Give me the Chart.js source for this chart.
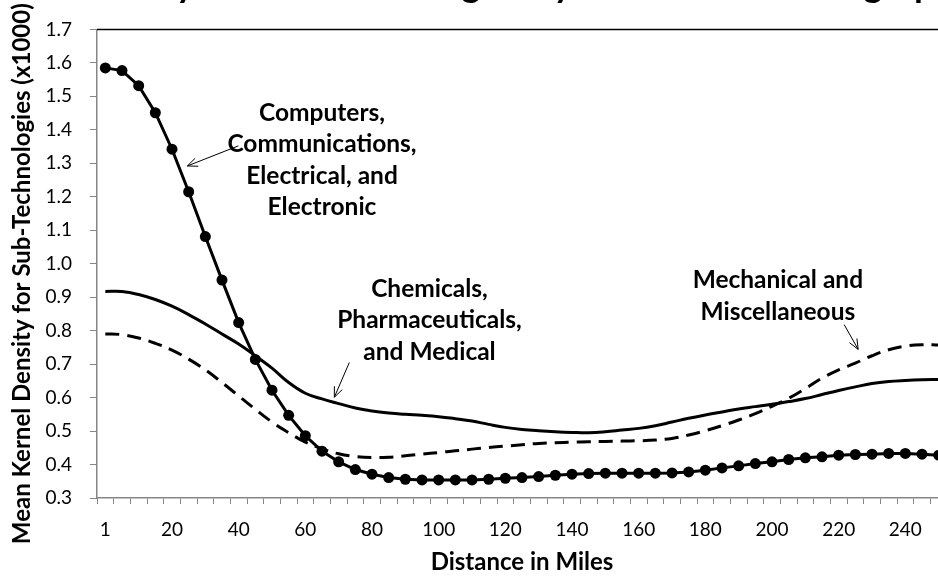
<!DOCTYPE html>
<html>
<head>
<meta charset="utf-8">
<script src="https://cdn.jsdelivr.net/npm/chart.js@4.4.1/dist/chart.umd.min.js"></script>
<style>
html, body { margin: 0; padding: 0; background: #fff; overflow: hidden; }
#wrap { position: absolute; left: 0; top: 0; width: 960px; height: 577px; }
</style>
</head>
<body>
<div id="wrap"><canvas id="canvas" width="960" height="577"></canvas></div>
<script>
var miles = [1, 5, 10, 15, 20, 25, 30, 35, 40, 45, 50, 55, 60, 65, 70, 75, 80, 85, 90, 95,
  100, 105, 110, 115, 120, 125, 130, 135, 140, 145, 150, 155, 160, 165, 170, 175, 180, 185, 190, 195,
  200, 205, 210, 215, 220, 225, 230, 235, 240, 245, 250];

var computers = [1.585, 1.577, 1.532, 1.451, 1.342, 1.215, 1.081, 0.951, 0.824, 0.714,
  0.622, 0.547, 0.486, 0.440, 0.408, 0.385, 0.371, 0.361, 0.356, 0.354,
  0.354, 0.354, 0.354, 0.356, 0.359, 0.361, 0.364, 0.368, 0.371, 0.373,
  0.374, 0.374, 0.374, 0.374, 0.375, 0.378, 0.383, 0.390, 0.396, 0.403,
  0.408, 0.415, 0.420, 0.423, 0.428, 0.430, 0.431, 0.433, 0.433, 0.431, 0.428];

var chemicals = [0.917, 0.917, 0.908, 0.893, 0.873, 0.848, 0.820, 0.790, 0.760, 0.725,
  0.688, 0.645, 0.613, 0.596, 0.582, 0.569, 0.560, 0.554, 0.550, 0.547,
  0.543, 0.537, 0.530, 0.520, 0.511, 0.505, 0.501, 0.498, 0.496, 0.495,
  0.498, 0.503, 0.508, 0.516, 0.527, 0.538, 0.548, 0.557, 0.566, 0.573,
  0.580, 0.588, 0.597, 0.609, 0.621, 0.632, 0.642, 0.648, 0.651, 0.653, 0.654];

var mechanical = [0.790, 0.788, 0.778, 0.762, 0.742, 0.715, 0.683, 0.645, 0.605, 0.565,
  0.527, 0.495, 0.467, 0.447, 0.432, 0.424, 0.421, 0.422, 0.426, 0.431,
  0.436, 0.441, 0.446, 0.451, 0.455, 0.459, 0.463, 0.465, 0.467, 0.468,
  0.469, 0.470, 0.471, 0.473, 0.478, 0.488, 0.501, 0.516, 0.533, 0.552,
  0.574, 0.598, 0.627, 0.658, 0.683, 0.703, 0.725, 0.743, 0.754, 0.758, 0.757];

var xTickLabels = [1, 20, 40, 60, 80, 100, 120, 140, 160, 180, 200, 220, 240];
var yMin = 0.3, yMax = 1.7, yStep = 0.1;

var chartTitle = 'Density of Sub-Technologies by Distance and Geography';
var yTitle = 'Mean Kernel Density for Sub-Technologies (x1000)';

// labels drawn on the plot, placed in axis units (category index, value)
var notes = [
  { lines: ['Computers,', 'Communications,', 'Electrical, and', 'Electronic'], x: 13.0, y: 1.45 },
  { lines: ['Chemicals,', 'Pharmaceuticals,', 'and Medical'], x: 19.45, y: 0.925 },
  { lines: ['Mechanical and', 'Miscellaneous'], x: 40.35, y: 0.951 }
];
var arrows = [
  { from: [7.98, 1.352], to: [4.92, 1.292] },
  { from: [14.64, 0.705], to: [13.74, 0.601] },
  { from: [44.33, 0.818], to: [45.17, 0.744] }
];

var notesPlugin = {
  id: 'notes',
  afterDatasetsDraw: function(chart) {
    var ctx = chart.ctx, xs = chart.scales.x, ys = chart.scales.y, area = chart.chartArea;
    ctx.save();
    // plot area top border
    ctx.strokeStyle = '#000';
    ctx.lineWidth = 1.5;
    ctx.beginPath();
    ctx.moveTo(area.left, area.top);
    ctx.lineTo(area.right, area.top);
    ctx.stroke();

    ctx.fillStyle = '#000';
    ctx.font = 'bold 24.5px Lato';
    ctx.textAlign = 'center';
    ctx.textBaseline = 'middle';
    notes.forEach(function(n) {
      var x = xs.getPixelForValue(n.x), y = ys.getPixelForValue(n.y);
      n.lines.forEach(function(t, i) { ctx.fillText(t, x, y + i * 31.5); });
    });

    ctx.lineWidth = 1;
    arrows.forEach(function(a) {
      var x1 = xs.getPixelForValue(a.from[0]), y1 = ys.getPixelForValue(a.from[1]);
      var x2 = xs.getPixelForValue(a.to[0]), y2 = ys.getPixelForValue(a.to[1]);
      var ang = Math.atan2(y2 - y1, x2 - x1), hl = 11;
      ctx.beginPath();
      ctx.moveTo(x1, y1);
      ctx.lineTo(x2, y2);
      ctx.moveTo(x2 - hl * Math.cos(ang - 0.4), y2 - hl * Math.sin(ang - 0.4));
      ctx.lineTo(x2, y2);
      ctx.lineTo(x2 - hl * Math.cos(ang + 0.4), y2 - hl * Math.sin(ang + 0.4));
      ctx.stroke();
    });

    // y axis title, a little below the plot centre as in the original
    ctx.save();
    ctx.translate(22, (area.top + area.bottom) / 2 + 10);
    ctx.rotate(-Math.PI / 2);
    ctx.font = 'bold 24px Lato';
    ctx.fillText(yTitle, 0, 0);
    ctx.restore();

    // chart title, cut off above the visible window
    ctx.font = 'bold 36px Lato';
    ctx.textBaseline = 'alphabetic';
    ctx.fillText(chartTitle, (area.left + area.right) / 2, -3);
    ctx.restore();
  }
};

function init() {
  var ctx = document.getElementById('canvas').getContext('2d');
  window.myChart = new Chart(ctx, {
    type: 'line',
    data: {
      labels: miles,
      datasets: [{
        label: 'Computers, Communications, Electrical, and Electronic',
        data: computers,
        borderColor: '#000',
        backgroundColor: '#000',
        borderWidth: 3,
        pointRadius: 5.5,
        pointBorderWidth: 0,
        pointBackgroundColor: '#000',
        tension: 0
      }, {
        label: 'Chemicals, Pharmaceuticals, and Medical',
        data: chemicals,
        borderColor: '#000',
        borderWidth: 3,
        pointRadius: 0,
        tension: 0.4
      }, {
        label: 'Mechanical and Miscellaneous',
        data: mechanical,
        borderColor: '#000',
        borderWidth: 3,
        borderDash: [14, 8],
        pointRadius: 0,
        tension: 0.4
      }]
    },
    options: {
      responsive: false,
      animation: false,
      layout: { padding: { left: 0, right: 13, top: 28, bottom: 0 } },
      plugins: { legend: { display: false }, tooltip: { enabled: false } },
      scales: {
        x: {
          offset: true,
          grid: { offset: true, drawOnChartArea: false, tickLength: 6, color: '#868686' },
          border: { color: '#868686', width: 1.5 },
          ticks: {
            autoSkip: false,
            maxRotation: 0,
            padding: 14,
            color: '#000',
            font: { family: 'Lato', size: 19 },
            callback: function(v, i) {
              return xTickLabels.indexOf(miles[i]) >= 0 ? String(miles[i]) : '';
            }
          },
          title: {
            display: true,
            text: 'Distance in Miles',
            color: '#000',
            font: { family: 'Lato', size: 24, weight: 'bold' },
            padding: { top: 0, bottom: 0 }
          },
          afterFit: function(s) { s.height = 79; }
        },
        y: {
          min: yMin,
          max: yMax,
          grid: { drawOnChartArea: false, tickLength: 7, color: '#868686' },
          border: { color: '#868686', width: 1.5 },
          ticks: {
            stepSize: yStep,
            padding: 18,
            color: '#000',
            font: { family: 'Lato', size: 19 },
            callback: function(v) { return v.toFixed(1); }
          },
          afterFit: function(s) { s.width = 97; }
        }
      }
    },
    plugins: [notesPlugin]
  });
}

window.onload = init;
</script>
</body>
</html>
